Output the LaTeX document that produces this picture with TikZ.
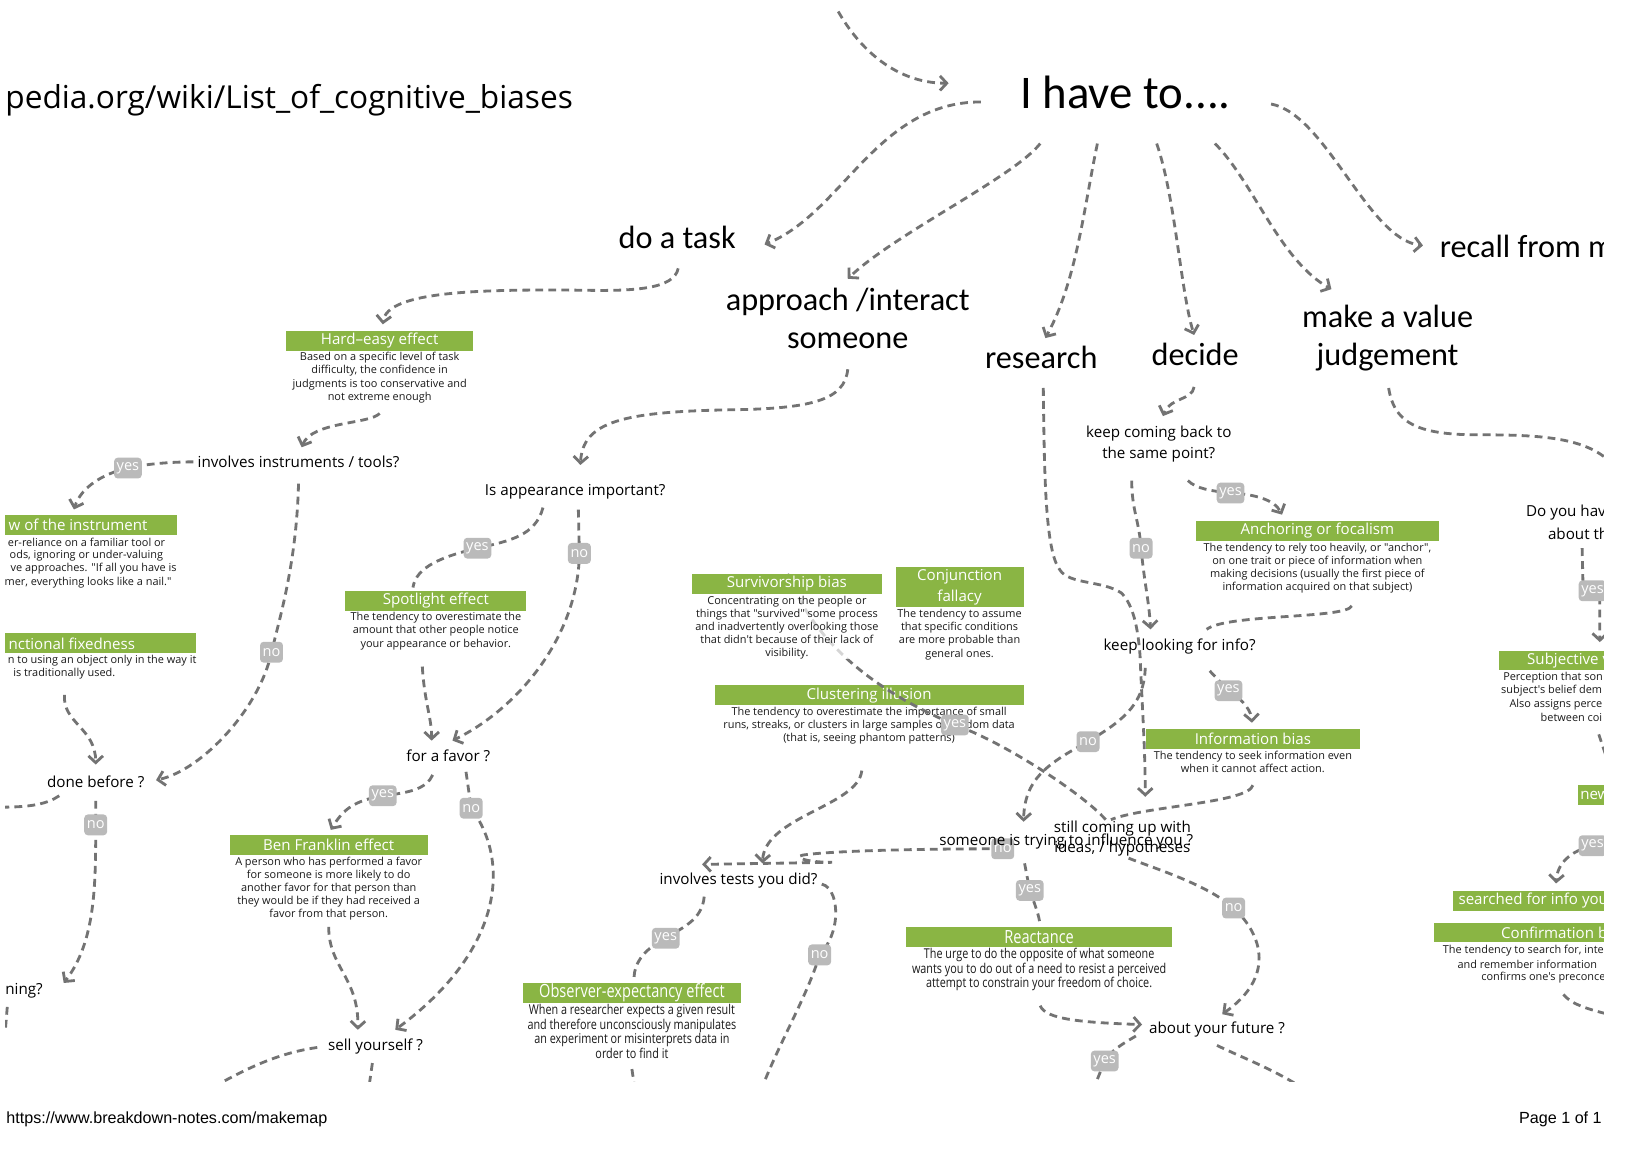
\documentclass[tikz,border=0pt]{standalone}
\usepackage{fontspec}
\setmainfont{Open Sans}[Ligatures=TeXOff]
\newfontfamily\headfont{Carlito}
\newfontfamily\condfont{Open Sans}[FakeStretch=0.8,Ligatures=TeXOff]
\newfontfamily\footfont{Liberation Sans}
\usetikzlibrary{arrows.meta,calc}
\definecolor{gbar}{RGB}{138,181,68}
\definecolor{lgray}{RGB}{115,115,115}
\definecolor{bgray}{RGB}{186,186,186}
\pgfdeclarelayer{bg}
\pgfdeclarelayer{fg}
\pgfsetlayers{bg,main,fg}
\newcommand{\myclip}{\clip (5,10) rectangle (1542,1040);}
\tikzset{
  lbl/.style={font=\fontsize{14.6}{20}\selectfont, align=center, inner sep=0pt},
  hd/.style={font=\headfont\fontsize{31}{36}\selectfont, align=center, inner sep=0pt},
  bar/.style={fill=gbar, text=white, font=\fontsize{14.5}{19}\selectfont, inner sep=0pt, minimum height=19pt, align=center},
  cbar/.style={bar, font=\condfont\fontsize{17.5}{19}\selectfont},
  dsc/.style={font=\fontsize{10.5}{12.6}\selectfont, align=center, inner sep=0pt, text=black!90},
  cdsc/.style={dsc, font=\condfont\fontsize{13}{12.8}\selectfont},
  bdg/.style={fill=bgray, text=white, rounded corners=3.5pt, font=\fontsize{14}{16}\selectfont, inner xsep=2.5pt, inner ysep=0pt, minimum height=20pt},
  conn/.style={draw=lgray, line width=2.7pt, dash pattern=on 7.5pt off 5pt},
  arr/.style={conn, -{Straight Barb[length=6.5pt,width=14pt]}}
}
\begin{document}
\begin{tikzpicture}[x=1pt,y=-1pt]
\useasboundingbox (0,0) rectangle (1568,1124);
\begin{pgfonlayer}{bg}
\fill[white] (0,0) rectangle (1568,1124);
\end{pgfonlayer}

% ---------- badges (foreground) ----------
\begin{pgfonlayer}{fg}
\begin{scope}
\myclip
\node[bdg] (yesI) at (123,450) {yes};
\node[bdg] (noI) at (261,627) {no};
\node[bdg] (noD) at (92,793) {no};
\node[bdg] (yesA) at (459,527) {yes};
\node[bdg] (noA) at (557,532) {no};
\node[bdg] (yesF) at (368,765) {yes};
\node[bdg] (noF) at (453,777) {no};
\node[bdg] (yesC) at (918,697) {yes};
\node[bdg] (noL) at (1046,713) {no};
\node[bdg] (yesL) at (1181,664) {yes};
\node[bdg] (yesK) at (1183,474) {yes};
\node[bdg] (noK) at (1097,527) {no};
\node[bdg] (yesS) at (990,856) {yes};
\node[bdg] (noC) at (1186,873) {no};
\node[bdg] (yesT) at (640,902) {yes};
\node[bdg] (noT) at (788,918) {no};
\node[bdg] (yesU) at (1062,1020) {yes};
\node[bdg] (yesY) at (1531,568) {yes};
\node[bdg] (yesN) at (1531,813) {yes};
\end{scope}
\end{pgfonlayer}

% ---------- main nodes ----------
\begin{scope}
\myclip
\node[font=\fontsize{30.4}{34}\selectfont, anchor=west, inner sep=0pt] (url) at (5,96) {pedia.org/wiki/List\_of\_cognitive\_biases};

\node[font=\headfont\fontsize{45}{50}\selectfont, inner sep=0pt] (top) at (1082,89) {I have to....};
\node[hd] (task) at (651,228) {do a task};
\node[hd] (appr) at (815,306) {approach /interact\\someone};
\node[hd] (res) at (1001,344) {research};
\node[hd] (dec) at (1149,341) {decide};
\node[hd] (val) at (1334,325) {make a value\\judgement};
\node[hd, anchor=west] (recall) at (1384,237) {recall from m};

\node[lbl] (inst) at (287,444) {involves instruments / tools?};
\node[lbl] (done) at (92,752) {done before ?};
\node[lbl, anchor=west] (ning) at (5,952) {ning?};
\node[lbl] (appimp) at (553,473) {Is appearance important?};
\node[lbl] (favor) at (431,727) {for a favor ?};
\node[lbl] (sell) at (361,1006) {sell yourself ?};
\node[lbl] (tests) at (710,847) {involves tests you did?};
\node[lbl] (kcb) at (1114,427) {keep coming back to\\the same point?};
\node[lbl] (klf) at (1134,622) {keep looking for info?};
\node[bdg] (noS) at (964,816) {no};
\node[lbl] (infl) at (1025,809) {someone is trying to influence you ?};
\node[lbl, font=\fontsize{14.6}{19}\selectfont] (still) at (1079,806) {still coming up with\\ideas, / hypotheses};
\node[lbl] (future) at (1170,990) {about your future ?};
\node[lbl, anchor=west] (doyou) at (1467,493) {Do you hav};
\node[lbl, anchor=west] (doyou2) at (1488,513) {about th};

% green bars and descriptions
\node[bar, minimum width=180pt] (he) at (365,327.5) {Hard–easy effect};
\node[dsc, anchor=north] (hed) at ($(he.south)+(0,1.5)$) {Based on a specific level of task\\difficulty, the confidence in\\judgments is too conservative and\\not extreme enough};

\node[bar, anchor=east, inner xsep=28pt] (loti) at (170,504.5) {w of the instrument};
\node[dsc, anchor=east] (lotid1) at (159,521) {er-reliance on a familiar tool or};
\node[dsc, anchor=east] (lotid2) at (157,534) {ods, ignoring or under-valuing};
\node[dsc, anchor=east] (lotid3) at (170,547) {ve approaches. "If all you have is};
\node[dsc, anchor=east] (lotid4) at (165,560) {mer, everything looks like a nail."};

\node[bar, anchor=east, inner xsep=59pt] (ff) at (189,618.5) {nctional fixedness};
\node[dsc, anchor=east] (ffd1) at (189,635) {n to using an object only in the way it};
\node[dsc, anchor=east] (ffd2) at (111,648) {is traditionally used.};

\node[bar, minimum width=174pt] (spot) at (419,577.5) {Spotlight effect};
\node[dsc, anchor=north] (spotd) at ($(spot.south)+(0,1.5)$) {The tendency to overestimate the\\amount that other people notice\\your appearance or behavior.};

\node[bar, minimum width=190pt] (ben) at (316,812.5) {Ben Franklin effect};
\node[dsc, anchor=north] (bend) at ($(ben.south)+(0,1.5)$) {A person who has performed a favor\\for someone is more likely to do\\another favor for that person than\\they would be if they had received a\\favor from that person.};

\node[bar, minimum width=123pt, minimum height=39pt, font=\fontsize{14.5}{20}\selectfont] (conj) at (922.5,564.5) {Conjunction\\fallacy};
\node[dsc, anchor=north] (conjd) at ($(conj.south)+(0,1.5)$) {The tendency to assume\\that specific conditions\\are more probable than\\general ones.};

\node[bar, minimum width=297pt] (clus) at (835.5,668.5) {Clustering illusion};
\node[dsc, anchor=north] (clusd) at ($(clus.south)+(0,1.5)$) {The tendency to overestimate the importance of small\\runs, streaks, or clusters in large samples of random data\\(that is, seeing phantom patterns)};

\node[cbar, minimum width=209pt] (obs) at (607.5,954.5) {Observer-expectancy effect};
\node[cdsc, anchor=north] (obsd) at ($(obs.south)+(0,1)$) {When a researcher expects a given result\\and therefore unconsciously manipulates\\an experiment or misinterprets data in\\order to find it};

\node[cbar, minimum width=256pt] (react) at (999,900.5) {Reactance};
\node[cdsc, anchor=north] (reactd) at ($(react.south)+(0,1)$) {The urge to do the opposite of what someone\\wants you to do out of a need to resist a perceived\\attempt to constrain your freedom of choice.};

\node[bar, minimum width=233pt] (anch) at (1266.5,510.5) {Anchoring or focalism};
\node[dsc, anchor=north] (anchd) at ($(anch.south)+(0,1.5)$) {The tendency to rely too heavily, or "anchor",\\on one trait or piece of information when\\making decisions (usually the first piece of\\information acquired on that subject)};

\node[bar, minimum width=205pt] (info) at (1204.5,710.5) {Information bias};
\node[dsc, anchor=north, fill=white, fill opacity=0.7, text opacity=1] (infod) at ($(info.south)+(0,1.5)$) {The tendency to seek information even\\when it cannot affect action.};

\node[bar, anchor=west, inner xsep=27pt] (subj) at (1441,635) {Subjective v};
\node[dsc, anchor=west] (subjd1) at (1445,651) {Perception that son};
\node[dsc, anchor=west] (subjd2) at (1443,664) {subject's belief dem};
\node[dsc, anchor=west] (subjd3) at (1451,677) {Also assigns perce};
\node[dsc, anchor=west] (subjd4) at (1481,690) {between coi};

\node[bar, anchor=west, inner xsep=2pt] (newb) at (1517,764.5) {new\hspace{20pt}};
\node[bar, anchor=west, inner xsep=5pt] (srch) at (1397,866) {searched for info you\hspace{20pt}};
\node[bar, anchor=west, inner xsep=65pt] (conf) at (1378,896.5) {Confirmation b};
\node[dsc, anchor=west] (confd1) at (1387,914) {The tendency to search for, inte};
\node[dsc, anchor=west] (confd2) at (1401,927) {and remember information};
\node[dsc, anchor=west] (confd3) at (1424,940) {confirms one's preconce};

% still coming up -> yes -> survivorship (drawn over clustering, under survivorship)
\draw[conn] ($(still)+(-16,-18)$) .. controls (1040,762) and (962,712) .. (yesC.center)
  .. controls (880,680) and (790,640) .. ($(clus.north)+(-79,-109)$);

\node[bar, minimum width=183pt] (surv) at (756.5,561.5) {Survivorship bias};
\node[dsc, anchor=north, fill=white, fill opacity=0.7, text opacity=1] (survd) at ($(surv.south)+(0,1.5)$) {Concentrating on the people or\\things that "survived" some process\\and inadvertently overlooking those\\that didn't because of their lack of\\visibility.};
\end{scope}

% footer
\node[font=\footfont\fontsize{15.5}{18}\selectfont, anchor=west, inner sep=0pt] (foot) at (6,1076) {https://www.breakdown-notes.com/makemap};
\node[font=\footfont\fontsize{15.5}{18}\selectfont, anchor=east, inner sep=0pt] (page) at (1540,1076) {Page 1 of 1};

% free ends
\coordinate (topin) at (800,0);
\coordinate (lf1) at (0,776);
\coordinate (nn1) at (5,992);
\coordinate (sl1) at (200,1048);
\coordinate (sl2) at (354,1050);
\coordinate (fu1) at (1050,1050);
\coordinate (fu2) at (1258,1050);
\coordinate (te1) at (730,1052);
\coordinate (ob1) at (611,1052);
\coordinate (vr1) at (1550,446);
\coordinate (sd1) at (1545,730);
\coordinate (cf1) at (1550,976);

% ---------- connectors ----------
\begin{pgfonlayer}{bg}
\begin{scope}
\myclip
\draw[arr] (topin) .. controls (822,45) and (860,80) .. ($(top)+(-170,-9)$);
\draw[arr] ($(top)+(-139,9)$) .. controls (843,98) and (810,205) .. ($(task)+(84,7)$);
\draw[arr] ($(top)+(-82,49)$) .. controls (975,170) and (860,225) .. ($(appr)+(0,-38)$);
\draw[arr] ($(top)+(-27,49)$) .. controls (1042,200) and (1035,270) .. ($(res)+(4,-19)$);
\draw[arr] ($(top)+(30,49)$) .. controls (1130,190) and (1135,280) .. ($(dec)+(-1,-19)$);
\draw[arr] ($(top)+(86,49)$) .. controls (1205,175) and (1230,250) .. ($(val)+(-54,-47)$);
\draw[arr] ($(top)+(140,11)$) .. controls (1275,110) and (1315,230) .. ($(recall.west)+(-16,-1)$);

% do a task branch
\draw[arr] ($(task)+(1,30)$) .. controls (648,278) and (610,280) .. (560,279)
  .. controls (460,278) and (372,280) .. ($(he.north)+(3,-6)$);
\draw[arr] ($(hed.south)+(0,10)$) .. controls (355,408) and (300,405) .. ($(inst)+(3,-14)$);
\draw[arr] ($(inst)+(-101,0)$) .. controls (165,444) and (140,446) .. (yesI.center)
  .. controls (100,455) and (78,468) .. ($(loti.north)+(-4,-5)$);
\draw[arr] ($(inst)+(0,21)$) .. controls (285,540) and (270,590) .. (noI.center)
  .. controls (250,680) and (195,740) .. ($(done)+(58,-2)$);
\draw[arr] ($(done)+(-30,-84)$) .. controls (60,695) and (92,700) .. ($(done)+(0,-17)$);
\draw[conn] ($(done)+(-35,13)$) .. controls (45,773) and (30,776) .. (lf1);
\draw[arr] ($(done)+(0,18)$) -- (noD.center) .. controls (92,850) and (92,905) .. ($(ning.east)+(20,-7)$);
\draw[conn] ($(ning.west)+(2,16)$) -- (nn1);

% approach branch
\draw[arr] ($(appr)+(0,49)$) .. controls (812,385) and (780,393) .. (700,394)
  .. controls (600,396) and (560,405) .. ($(appimp)+(5,-26)$);
\draw[conn] ($(appimp)+(-31,15)$) .. controls (515,515) and (490,520) .. (yesA.center)
  .. controls (425,535) and (400,545) .. ($(spot.north)+(-22,-3)$);
\draw[arr] ($(appimp)+(3,17)$) -- (noA.center) .. controls (556,610) and (500,680) .. ($(favor)+(4,-15)$);
\draw[arr] ($(spotd.south)+(-13,16)$) .. controls (408,675) and (415,690) .. ($(favor)+(-16,-15)$);
\draw[arr] ($(favor)+(-15,18)$) .. controls (410,758) and (395,762) .. (yesF.center)
  .. controls (340,770) and (330,778) .. ($(ben.north)+(2,-5)$);
\draw[arr] ($(favor)+(17,15)$) -- (noF.center) .. controls (492,830) and (482,915) .. ($(sell)+(19,-16)$);
\draw[arr] ($(bend.south)+(0,6)$) .. controls (316,930) and (345,940) .. ($(sell)+(-17,-16)$);
\draw[conn] ($(sell)+(-56,1)$) .. controls (270,1012) and (240,1025) .. (sl1);
\draw[conn] ($(sell)+(-3,16)$) -- (sl2);

% middle
\draw[arr] ($(clusd.south)+(-7,25)$) .. controls (825,775) and (735,785) .. ($(tests)+(23,-17)$);
\draw[arr] (noS.center) .. controls (880,816) and (800,818) .. (772,822)
  .. controls (762,824) and (775,829) .. (800,829) -- ($(tests)+(-35,-16)$);
\draw[conn] ($(infl)+(-40,21)$) -- (yesS.center) .. controls (995,870) and (999,880) .. ($(react.north)+(1,-1)$);
\draw[arr] ($(reactd.south)+(1,14)$) .. controls (1005,980) and (1040,983) .. ($(future)+(-72,-5)$);
\draw[conn] ($(future)+(-78,6)$) .. controls (1080,1003) and (1068,1010) .. (yesU.center) -- (fu1);
\draw[conn] ($(future)+(0,15)$) .. controls (1190,1015) and (1230,1030) .. (fu2);
\draw[conn] ($(tests)+(-33,15)$) .. controls (675,885) and (655,892) .. (yesT.center)
  .. controls (620,912) and (610,925) .. ($(obs.north)+(2,-5)$);
\draw[conn] ($(tests)+(80,3)$) .. controls (800,852) and (805,868) .. (803,885)
  .. controls (801,900) and (795,910) .. (noT.center) .. controls (775,960) and (750,1000) .. (te1);
\draw[conn] ($(obsd.south)+(0,10)$) -- (ob1);

% decide / research
\draw[arr] ($(dec)+(-1,31)$) .. controls (1146,385) and (1125,382) .. ($(kcb)+(4,-27)$);
\draw[arr] ($(kcb)+(28,35)$) .. controls (1150,470) and (1165,472) .. (yesK.center)
  .. controls (1205,475) and (1225,480) .. ($(anch.north)+(-34,-6)$);
\draw[arr] ($(kcb)+(-26,35)$) .. controls (1088,490) and (1095,500) .. (noK.center)
  .. controls (1100,560) and (1105,580) .. ($(klf)+(-28,-17)$);
\draw[conn] ($(anchd.south)+(33,12)$) .. controls (1295,595) and (1180,590) .. ($(klf)+(26,-17)$);
\draw[arr] ($(res)+(2,29)$) .. controls (1004,460) and (1005,530) .. (1019,548)
  .. controls (1028,562) and (1060,558) .. (1078,570)
  .. controls (1090,582) and (1094,605) .. (1096,630)
  .. controls (1098,680) and (1101,720) .. ($(still)+(22,-40)$);
\draw[arr] ($(still)+(6,19)$) .. controls (1110,835) and (1160,850) .. (noC.center)
  .. controls (1215,900) and (1225,940) .. ($(future)+(5,-15)$);
\draw[conn] ($(infod.south)+(0,12)$) .. controls (1200,772) and (1100,775) .. ($(still)+(-11,-18)$);
\draw[arr] ($(klf)+(29,23)$) -- (yesL.center) .. controls (1198,675) and (1203,685) .. ($(info.north)+(-1,-6)$);
\draw[arr] ($(klf)+(-33,20)$) .. controls (1100,680) and (1075,695) .. (noL.center)
  .. controls (1005,735) and (985,750) .. ($(infl)+(-41,-19)$);

% value judgement / right edge
\draw[conn] ($(val)+(1,48)$) .. controls (1340,405) and (1360,418) .. (1420,418)
  .. controls (1480,418) and (1525,420) .. (vr1);
\draw[arr] ($(doyou2.west)+(33,14)$) -- ($(yesY.center)+(-9,0)$) -- ($(yesY.center)+(7,0)$) -- ($(subj.north west)+(97,-8)$);
\draw[conn] ($(subjd4.west)+(56,16)$) -- (sd1);
\draw[arr] (yesN.center) .. controls (1510,818) and (1497,830) .. ($(srch.north west)+(99,-7)$);
\draw[conn] ($(confd3.west)+(79,16)$) .. controls (1510,965) and (1525,970) .. (cf1);
\end{scope}
\end{pgfonlayer}
\end{tikzpicture}
\end{document}
